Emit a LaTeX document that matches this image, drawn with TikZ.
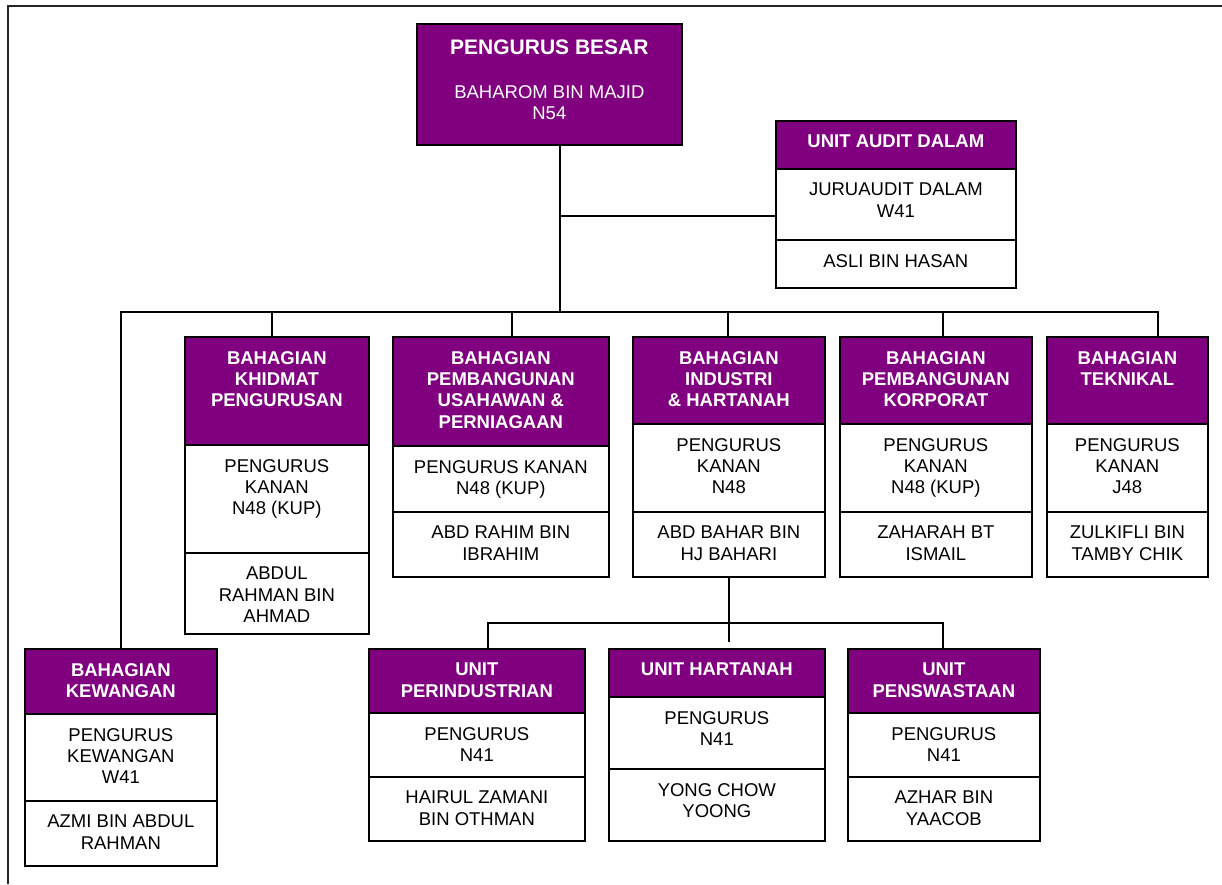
\documentclass[tikz,border=0pt]{standalone}
\usepackage{fontspec}
\setmainfont{Liberation Sans}
\usetikzlibrary{backgrounds}
\definecolor{orgpurple}{HTML}{800080}
\tikzset{
  conn/.style={line width=1.4pt, draw=black},
  frame/.style={line width=1.5pt, draw=black!85},
  secbox/.style={draw=black, line width=1.7pt, inner sep=0pt, anchor=north west},
  headbox/.style={secbox, fill=orgpurple},
  bodybox/.style={secbox, fill=white},
  headtxt/.style={text=white, font=\fontsize{18.5}{21.3}\selectfont\bfseries, align=center, inner sep=0pt, anchor=north},
  bodytxt/.style={text=black, font=\fontsize{18.5}{21.3}\selectfont, align=center, inner sep=0pt, anchor=north},
}
% #1 name, #2 box style, #3 text style, #4 left, #5 right, #6 top, #7 bottom, #8 text
\newcommand\orgsec[8]{%
  \node[#2, minimum width={(#5-#4)*1pt}, minimum height={(#7-#6)*1pt}] (#1) at (#4,#6) {};
  \node[#3] (#1t) at ([yshift=-15pt]#1.north) {#8};
}
\begin{document}
\begin{tikzpicture}[x=1pt,y=-1pt]
\useasboundingbox (0,0) rectangle (1222,884);
\draw[frame] (8,884) -- (8,6) -- (1222,6);

% top box
\node[headbox, minimum width=265pt, minimum height=121pt] (pb) at (416,23) {};
\node[headtxt, font=\fontsize{21}{25}\selectfont\bfseries] (pbt) at ([yshift=-16.5pt]pb.north) {PENGURUS BESAR};
\node[headtxt, font=\fontsize{18.5}{21.3}\selectfont] (pbn) at ([yshift=-62.4pt]pb.north) {BAHAROM BIN MAJID\\N54};

% audit
\orgsec{audH}{headbox}{headtxt}{775}{1015}{120}{168}{UNIT AUDIT DALAM}
\orgsec{audB}{bodybox}{bodytxt}{775}{1015}{168}{239}{JURUAUDIT DALAM\\W41}
\orgsec{audN}{bodybox}{bodytxt}{775}{1015}{239}{287}{ASLI BIN HASAN}

% khidmat
\orgsec{khH}{headbox}{headtxt}{184}{368}{336}{444}{BAHAGIAN\\KHIDMAT\\PENGURUSAN}
\orgsec{khB}{bodybox}{bodytxt}{184}{368}{444}{552}{PENGURUS\\KANAN\\N48 (KUP)}
\orgsec{khN}{bodybox}{bodytxt}{184}{368}{552}{633}{ABDUL\\RAHMAN BIN\\AHMAD}

% usahawan
\orgsec{usH}{headbox}{headtxt}{392}{608}{336}{445}{BAHAGIAN\\PEMBANGUNAN\\USAHAWAN \&\\PERNIAGAAN}
\orgsec{usB}{bodybox}{bodytxt}{392}{608}{445}{511}{PENGURUS KANAN\\N48 (KUP)}
\orgsec{usN}{bodybox}{bodytxt}{392}{608}{511}{576}{ABD RAHIM BIN\\IBRAHIM}

% industri
\orgsec{inH}{headbox}{headtxt}{632}{824}{336}{423}{BAHAGIAN\\INDUSTRI\\\& HARTANAH}
\orgsec{inB}{bodybox}{bodytxt}{632}{824}{423}{511}{PENGURUS\\KANAN\\N48}
\orgsec{inN}{bodybox}{bodytxt}{632}{824}{511}{576}{ABD BAHAR BIN\\HJ BAHARI}

% korporat
\orgsec{koH}{headbox}{headtxt}{839}{1031}{336}{423}{BAHAGIAN\\PEMBANGUNAN\\KORPORAT}
\orgsec{koB}{bodybox}{bodytxt}{839}{1031}{423}{511}{PENGURUS\\KANAN\\N48 (KUP)}
\orgsec{koN}{bodybox}{bodytxt}{839}{1031}{511}{576}{ZAHARAH BT\\ISMAIL}

% teknikal
\orgsec{teH}{headbox}{headtxt}{1046}{1207}{336}{423}{BAHAGIAN\\TEKNIKAL}
\orgsec{teB}{bodybox}{bodytxt}{1046}{1207}{423}{511}{PENGURUS\\KANAN\\J48}
\orgsec{teN}{bodybox}{bodytxt}{1046}{1207}{511}{576}{ZULKIFLI BIN\\TAMBY CHIK}

% kewangan
\orgsec{kwH}{headbox}{headtxt}{24}{216}{648}{713}{BAHAGIAN\\KEWANGAN}
\orgsec{kwB}{bodybox}{bodytxt}{24}{216}{713}{800}{PENGURUS\\KEWANGAN\\W41}
\orgsec{kwN}{bodybox}{bodytxt}{24}{216}{800}{865}{AZMI BIN ABDUL\\RAHMAN}

% perindustrian
\orgsec{prH}{headbox}{headtxt}{368}{584}{648}{712}{UNIT\\PERINDUSTRIAN}
\orgsec{prB}{bodybox}{bodytxt}{368}{584}{712}{776}{PENGURUS\\N41}
\orgsec{prN}{bodybox}{bodytxt}{368}{584}{776}{840}{HAIRUL ZAMANI\\BIN OTHMAN}

% hartanah
\orgsec{htH}{headbox}{headtxt}{608}{824}{648}{696}{UNIT HARTANAH}
\orgsec{htB}{bodybox}{bodytxt}{608}{824}{696}{768}{PENGURUS\\N41}
\orgsec{htN}{bodybox}{bodytxt}{608}{824}{768}{840}{YONG CHOW\\YOONG}

% penswastaan
\orgsec{psH}{headbox}{headtxt}{847}{1039}{648}{712}{UNIT\\PENSWASTAAN}
\orgsec{psB}{bodybox}{bodytxt}{847}{1039}{712}{776}{PENGURUS\\N41}
\orgsec{psN}{bodybox}{bodytxt}{847}{1039}{776}{840}{AZHAR BIN\\YAACOB}

\begin{scope}[on background layer]
  \coordinate (pbj) at (560,312);
  \coordinate (auj) at (560,216);
  \coordinate (bR) at (1158,312);
  \coordinate (d1) at (272,312);
  \coordinate (d2) at (512,312);
  \coordinate (d3) at (728,312);
  \coordinate (d4) at (943,312);
  \coordinate (s1) at (488,623);
  \coordinate (s3) at (943,623);
  \draw[conn] (pb.south -| pbj) -- (pbj);
  \draw[conn] (auj) -- (auj -| audB.west);
  \draw[conn] (kwH.north) |- (bR) -- (bR |- teH.north);
  \draw[conn] (d1) -- (d1 |- khH.north);
  \draw[conn] (d2) -- (d2 |- usH.north);
  \draw[conn] (d3) -- (d3 |- inH.north);
  \draw[conn] (d4) -- (d4 |- koH.north);
  \draw[conn] (inN.south) -- (inN.south |- s1);
  \draw[conn] (s1 |- prH.north) -- (s1) -- (s3) -- (s3 |- psH.north);
  \draw[conn, shorten >=6pt] (inN.south |- s1) -- (inN.south |- htH.north);
\end{scope}
\end{tikzpicture}
\end{document}
